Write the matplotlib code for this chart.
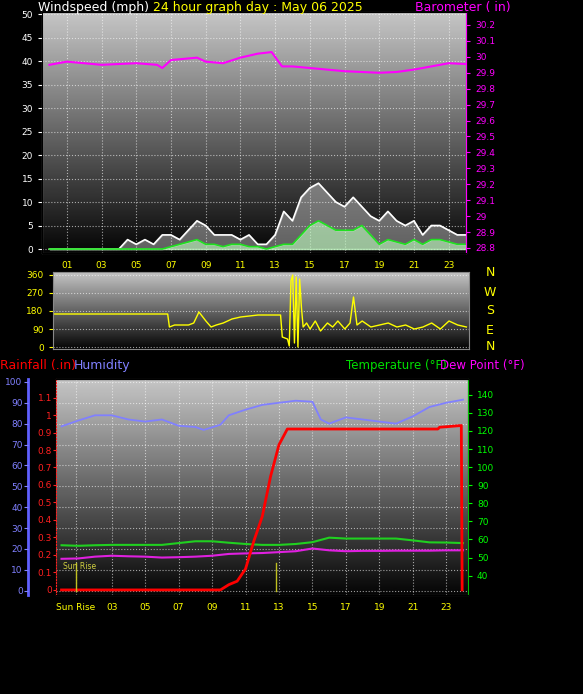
import numpy as np
import matplotlib.pyplot as plt

# ---- data ----
half_hours = np.arange(0, 24.01, 0.5)
wind_gust = [0, 0, 0, 0, 0, 0, 0, 0, 0, 2, 1, 2, 1, 3, 3, 2, 4, 6, 5, 3, 3, 3, 2, 3, 1,
             1, 3, 8, 6, 11, 13, 14, 12, 10, 9, 11, 9, 7, 6, 8, 6, 5, 6, 3, 5, 5, 4, 3, 3]
wind_avg = [0, 0, 0, 0, 0, 0, 0, 0, 0, 0, 0, 0, 0, 0, 0.5, 1, 1.5, 2, 1, 1, 0.5, 1, 1, 0.5, 0.5,
            0, 0.5, 1, 1, 3, 5, 6, 5, 4, 4, 4, 5, 3, 1, 2, 1.5, 1, 2, 1, 2, 2, 1.5, 1, 1]

baro_hours = [0, 1, 3, 5, 6.2, 6.5, 7, 8.5, 9, 10, 11, 12, 12.8, 13.4, 14, 15, 17, 19, 20, 21, 22, 23, 24]
baro = [29.95, 29.97, 29.95, 29.96, 29.95, 29.93, 29.98, 29.995, 29.97, 29.96, 29.995, 30.02, 30.03,
        29.94, 29.94, 29.93, 29.91, 29.90, 29.905, 29.92, 29.94, 29.96, 29.955]

dir_hours = [0, 6.8, 6.9, 7.2, 8, 8.3, 8.6, 9, 9.3, 9.6, 10, 10.5, 11, 11.5, 12, 13.3, 13.4, 13.7,
             13.8, 13.9, 14.0, 14.1, 14.2, 14.3, 14.4, 14.5, 14.6, 14.8, 15, 15.3, 15.6, 16, 16.3,
             16.6, 17, 17.3, 17.5, 17.7, 18, 18.5, 19, 19.5, 20, 20.5, 21, 21.5, 22, 22.5, 23, 23.5, 24]
wind_dir = [165, 165, 100, 110, 110, 120, 175, 130, 100, 110, 120, 140, 150, 155, 160, 160, 50, 40,
            5, 330, 360, 20, 350, 0, 340, 200, 100, 120, 90, 130, 80, 120, 100, 130, 90, 120, 250,
            110, 130, 100, 110, 120, 100, 110, 90, 100, 120, 90, 130, 110, 100]

hours = np.arange(0, 25)
temperature = [56.8, 56.5, 56.8, 57, 57, 57, 57, 58, 59, 59, 58.2, 57.5, 57, 57, 57.5, 58.5,
               61, 60.5, 60.5, 60.5, 60.5, 59.5, 58.4, 58.3, 58]
dew_point = [49.3, 49.5, 50.5, 51, 50.7, 50.5, 50, 50.2, 50.5, 51, 52, 52.3, 52.5, 53, 53.5, 55,
             54, 53.5, 53.7, 53.7, 53.8, 53.8, 53.8, 54, 54]
hum_hours = [0, 1, 2, 3, 4, 5, 6, 7, 8, 8.5, 9.5, 10, 11, 12, 13, 14, 15, 15.5, 16, 17, 18, 19, 20, 21, 22, 23, 24]
humidity = [78.7, 81.5, 84, 84, 82, 81, 82, 79, 78.4, 77, 79.5, 84, 86.7, 89, 90, 91, 90.5, 82,
            80, 83, 82, 81, 80, 83.5, 88, 90, 91.5]
rain_hours = [0, 9.5, 10, 10.5, 11, 11.5, 12, 12.5, 13, 13.5, 14, 22.5, 22.6, 23.9, 23.95]
rainfall = [0, 0, 0.03, 0.05, 0.12, 0.28, 0.42, 0.65, 0.83, 0.92, 0.92, 0.92, 0.93, 0.94, 0]

odd_labels = ['01', '03', '05', '07', '09', '11', '13', '15', '17', '19', '21', '23']
odd_ticks = list(range(1, 24, 2))

W, H = 583, 694
fig = plt.figure(figsize=(W / 100, H / 100), dpi=100, facecolor='black')
plt.rcParams['font.family'] = 'DejaVu Sans'


def box(l, t, r, b):
    return [l / W, 1 - b / H, (r - l) / W, (b - t) / H]


def background(ax):
    grad = np.linspace(0.78, 0.02, 200).reshape(-1, 1)
    ax.imshow(grad, cmap='gray', vmin=0, vmax=1, aspect='auto',
              extent=[*ax.get_xlim(), *ax.get_ylim()], origin='upper', zorder=0)
    ax.set_facecolor('black')


def grid(ax):
    ax.grid(True, color='white', linestyle=':', linewidth=0.8, alpha=0.6)
    ax.set_axisbelow(False)


tfs = 6.5
yellow = '#ffff00'
mag = '#ff00ff'

# ---- top: wind & barometer ----
ax1 = fig.add_axes(box(42, 12, 466, 253))
ax1.set_xlim(-0.43, 24.0)
ax1.set_ylim(-0.85, 50.43)
background(ax1)
ax1.set_yticks(range(0, 51, 5))
ax1.set_xticks(odd_ticks)
ax1.set_xticklabels(odd_labels, color=yellow, fontsize=tfs)
ax1.tick_params(axis='y', colors='white', labelsize=tfs, length=3)
ax1.tick_params(axis='x', colors=yellow, length=0, pad=6)
grid(ax1)
ax1.fill_between(half_hours, wind_gust, color='#d0d0d0', alpha=0.45, zorder=2)
ax1.plot(half_hours, wind_gust, color='white', lw=1.2, zorder=3)
ax1.fill_between(half_hours, wind_avg, color='#c0ffc0', alpha=0.6, zorder=3)
ax1.plot(half_hours, wind_avg, color='#20e020', lw=1.2, zorder=4)
for s in ax1.spines.values():
    s.set_color('#888888')
ax1.spines['left'].set_color('white')

ax1b = ax1.twinx()
ax1b.set_ylim(28.7686, 30.2816)
ax1b.plot(baro_hours, baro, color=mag, lw=1.5)
ax1b.set_yticks(np.round(np.arange(28.8, 30.21, 0.1), 1))
ax1b.set_yticklabels(['28.8', '28.9', '29', '29.1', '29.2', '29.3', '29.4', '29.5', '29.6', '29.7',
                      '29.8', '29.9', '30', '30.1', '30.2'])
ax1b.tick_params(axis='y', colors=mag, labelsize=tfs, length=3)
ax1b.spines['right'].set_color(mag)

fig.text(38 / W, 1 - 8 / H, 'Windspeed (mph)', color='white', fontsize=9, va='center')
fig.text(258 / W, 1 - 8 / H, '24 hour graph day : May 06 2025', color=yellow, fontsize=9,
         va='center', ha='center')
fig.text(415 / W, 1 - 8 / H, 'Barometer ( in)', color=mag, fontsize=9, va='center')

# ---- wind direction ----
ax2 = fig.add_axes(box(52.7, 272, 469, 349))
ax2.set_xlim(0.18, 24.15)
ax2.set_ylim(-10, 375)
background(ax2)
ax2.set_yticks([0, 90, 180, 270, 360])
ax2.set_xticks(odd_ticks)
ax2.set_xticklabels([])
ax2.tick_params(axis='y', colors=yellow, labelsize=tfs, length=3)
ax2.tick_params(axis='x', length=0)
ax2.yaxis.grid(True, color='white', linestyle=':', linewidth=0.8, alpha=0.6)
ax2.plot(dir_hours, wind_dir, color=yellow, lw=1.0)
for s in ax2.spines.values():
    s.set_color('#888888')
for lab, yy in zip(['N', 'W', 'S', 'E', 'N'], [272, 292, 311, 330, 347]):
    fig.text(490 / W, 1 - yy / H, lab, color=yellow, fontsize=9, ha='center', va='center')

# ---- bottom: rain, humidity, temperature, dew point ----
ax3 = fig.add_axes(box(56, 379, 468, 595))
ax3.set_xlim(-0.33, 24.3)
ax3.set_ylim(-2.1, 101.4)
background(ax3)
grid(ax3)
ax3.set_yticks(range(0, 101, 10))
ax3.tick_params(axis='y', colors='#8080ff', labelsize=tfs, length=3, pad=1)
ax3.spines['left'].set_position(('outward', 20))
ax3.spines['left'].set_color('#6060ff')
ax3.spines['left'].set_linewidth(2)
ax3.set_xticks([0.87] + odd_ticks[1:])
ax3.set_xticklabels(['Sun Rise'] + odd_labels[1:], color=yellow, fontsize=tfs)
ax3.tick_params(axis='x', colors=yellow, length=0, pad=6)
ax3.plot(hum_hours, humidity, color='#8080ff', lw=1.3, zorder=3)
for s in ['top', 'bottom']:
    ax3.spines[s].set_color('#888888')

ax_t = ax3.twinx()
ax_t.set_ylim(29.3, 148.7)
ax_t.set_yticks(range(40, 141, 10))
ax_t.tick_params(axis='y', colors='#00ff00', labelsize=tfs, length=3)
ax_t.spines['right'].set_color('#00c000')
ax_t.plot(hours, temperature, color='#20d020', lw=1.5)
ax_t.plot(hours, dew_point, color='#e020e0', lw=1.5)
ax_t.spines['left'].set_visible(False)

ax_r = ax3.twinx()
ax_r.set_ylim(-0.029, 1.206)
ax_r.yaxis.set_ticks_position('left')
ax_r.spines['left'].set_visible(True)
ax_r.spines['left'].set_color('#ff2020')
ax_r.spines['left'].set_linestyle(':')
ax_r.spines['right'].set_visible(False)
ax_r.set_yticks(np.round(np.arange(0, 1.11, 0.1), 1))
ax_r.set_yticklabels(['0', '0.1', '0.2', '0.3', '0.4', '0.5', '0.6', '0.7', '0.8', '0.9', '1', '1.1'])
ax_r.tick_params(axis='y', colors='#ff2020', labelsize=tfs, length=2, pad=1)
ax_r.plot(rain_hours, rainfall, color='#ff0000', lw=2)
ax_r.axvline(0.87, ymin=0.02, ymax=0.15, color='#c0c020', lw=1)
ax_r.axvline(12.85, ymin=0.02, ymax=0.15, color='#c0c020', lw=1)
ax_r.text(0.1, 0.12, 'Sun Rise', color='#d0d040', fontsize=5.5)

fig.text(0, 1 - 365 / H, 'Rainfall (.in)', color='#ff0000', fontsize=9, va='center')
fig.text(74 / W, 1 - 365 / H, 'Humidity', color='#8080ff', fontsize=9, va='center')
fig.text(346 / W, 1 - 365 / H, 'Temperature (°F)', color='#00e000', fontsize=8.5, va='center')
fig.text(440 / W, 1 - 365 / H, 'Dew Point (°F)', color=mag, fontsize=8.5, va='center')

fig.savefig('out.png', dpi=100, facecolor='black')
